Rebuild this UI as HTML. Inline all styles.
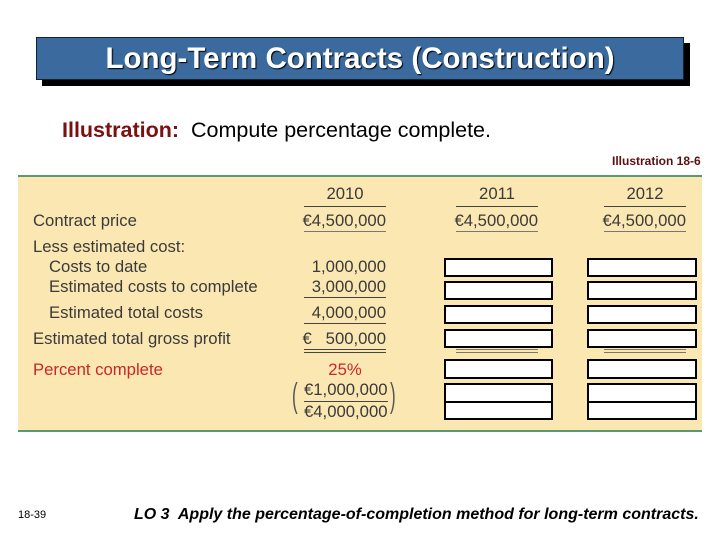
<!DOCTYPE html>
<html><head><meta charset="utf-8"><style>
body{margin:0;width:720px;height:540px;background:#fff;position:relative;overflow:hidden;font-family:"Liberation Sans",sans-serif}
.a{position:absolute;white-space:nowrap}
.t{font-size:16.7px;color:#3a3a3a;line-height:18px}
.r{text-align:right}
.ln{position:absolute;height:1px;background:#444}
.bx{position:absolute;border:2px solid #000;background:#fff;box-sizing:border-box}
</style></head><body>
<div class="a" style="left:42px;top:43px;width:648px;height:43px;background:#000"></div>
<div class="a" style="left:36px;top:37px;width:648px;height:43px;background:#3a6a9e;border:1px solid #123;box-sizing:border-box;color:#fff;font-size:29.5px;font-weight:bold;text-align:center;line-height:42px;text-shadow:1px 1px 1px #000">Long-Term Contracts (Construction)</div>
<div class="a" style="left:62px;top:118px;font-size:21.5px;color:#000"><b style="color:#7a1010">Illustration:</b>&nbsp; Compute percentage complete.</div>
<div class="a" style="left:612px;top:154px;font-size:12px;font-weight:bold;color:#5a1010">Illustration 18-6</div>
<div class="a" style="left:18px;top:175px;width:684px;height:257px;background:#fbe7b2;border-top:2px solid #5a9a70;border-bottom:2px solid #5a9a70;box-sizing:border-box"></div>

<div class="a t" style="left:304px;top:185px;width:82px;text-align:center">2010</div>
<div class="ln" style="left:304px;top:206px;width:82px"></div>
<div class="a t" style="left:456px;top:185px;width:82px;text-align:center">2011</div>
<div class="ln" style="left:456px;top:206px;width:82px"></div>
<div class="a t" style="left:604px;top:185px;width:82px;text-align:center">2012</div>
<div class="ln" style="left:604px;top:206px;width:82px"></div>

<div class="a t" style="left:33px;top:212px">Contract price</div>
<div class="a t" style="left:33px;top:238px">Less estimated cost:</div>
<div class="a t" style="left:49px;top:258px">Costs to date</div>
<div class="a t" style="left:49px;top:278px">Estimated costs to complete</div>
<div class="a t" style="left:49px;top:304px">Estimated total costs</div>
<div class="a t" style="left:33px;top:330px">Estimated total gross profit</div>
<div class="a t" style="left:33px;top:361px;color:#c8282a">Percent complete</div>

<div class="a t r" style="left:286px;top:212px;width:100px">€4,500,000</div>
<div class="ln" style="left:304px;top:231px;width:82px;background:#777"></div>
<div class="a t r" style="left:438px;top:212px;width:100px">€4,500,000</div>
<div class="ln" style="left:456px;top:231px;width:82px;background:#777"></div>
<div class="a t r" style="left:586px;top:212px;width:100px">€4,500,000</div>
<div class="ln" style="left:604px;top:231px;width:82px;background:#777"></div>
<div class="a t r" style="left:286px;top:258px;width:100px">1,000,000</div>
<div class="a t r" style="left:286px;top:278px;width:100px">3,000,000</div>
<div class="ln" style="left:304px;top:297px;width:82px"></div>
<div class="a t r" style="left:286px;top:304px;width:100px">4,000,000</div>
<div class="ln" style="left:304px;top:323px;width:82px"></div>
<div class="a t r" style="left:286px;top:330px;width:100px">€&nbsp;&nbsp; 500,000</div>
<div class="ln" style="left:304px;top:349px;width:82px"></div>
<div class="ln" style="left:304px;top:352px;width:82px"></div>
<div class="ln" style="left:456px;top:349px;width:82px;background:#776"></div>
<div class="ln" style="left:456px;top:352px;width:82px;background:#776"></div>
<div class="ln" style="left:604px;top:349px;width:82px;background:#776"></div>
<div class="ln" style="left:604px;top:352px;width:82px;background:#776"></div>
<div class="a t" style="left:304px;top:361px;width:82px;text-align:center;color:#c8282a">25%</div>
<div class="a" style="left:292px;top:378px;font-size:34px;color:#555;line-height:36px;transform:scaleX(0.5);transform-origin:left">(</div>
<div class="a t" style="left:304px;top:381px">€1,000,000</div>
<div class="ln" style="left:304px;top:401px;width:84px"></div>
<div class="a t" style="left:304px;top:403px">€4,000,000</div>
<div class="a" style="left:390px;top:378px;font-size:34px;color:#555;line-height:36px;transform:scaleX(0.5);transform-origin:left">)</div>

<div class="bx" style="left:444px;top:258px;width:109px;height:19px"></div>
<div class="bx" style="left:444px;top:281px;width:109px;height:19px"></div>
<div class="bx" style="left:444px;top:305px;width:109px;height:19px"></div>
<div class="bx" style="left:444px;top:329px;width:109px;height:19px"></div>
<div class="bx" style="left:444px;top:359px;width:109px;height:20px"></div>
<div class="bx" style="left:444px;top:383px;width:109px;height:20px"></div>
<div class="bx" style="left:444px;top:401px;width:109px;height:19px"></div>
<div class="bx" style="left:587px;top:258px;width:110px;height:19px"></div>
<div class="bx" style="left:587px;top:281px;width:110px;height:19px"></div>
<div class="bx" style="left:587px;top:305px;width:110px;height:19px"></div>
<div class="bx" style="left:587px;top:329px;width:110px;height:19px"></div>
<div class="bx" style="left:587px;top:359px;width:110px;height:20px"></div>
<div class="bx" style="left:587px;top:383px;width:110px;height:20px"></div>
<div class="bx" style="left:587px;top:401px;width:110px;height:19px"></div>

<div class="a" style="left:18px;top:509px;font-size:11px;color:#000">18-39</div>
<div class="a" style="left:134px;top:506px;font-size:16px;font-style:italic;font-weight:bold;color:#000">LO 3&nbsp; Apply the percentage-of-completion method for long-term contracts.</div>
</body></html>
